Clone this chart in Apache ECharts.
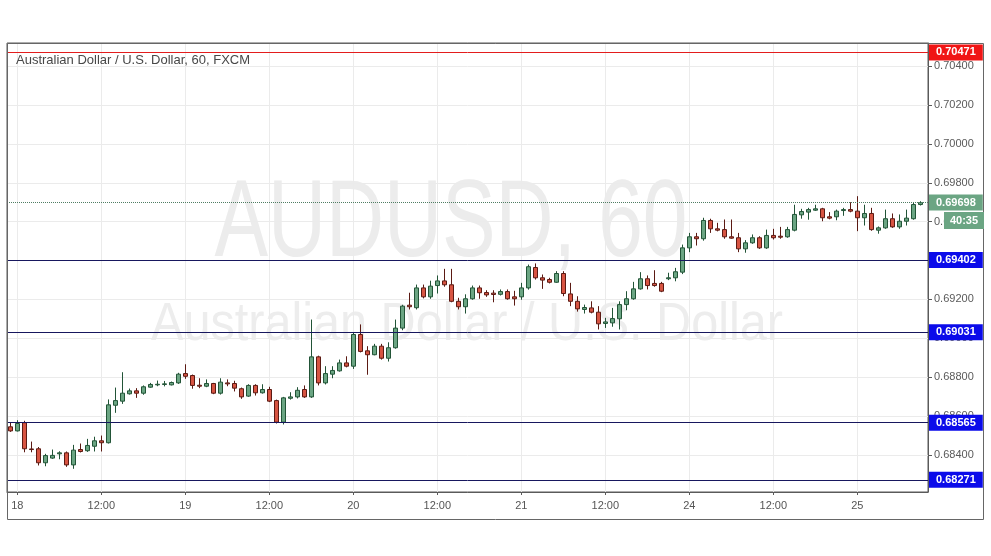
<!DOCTYPE html>
<html>
<head>
<meta charset="utf-8">
<script src="https://cdn.jsdelivr.net/npm/echarts@6/dist/echarts.min.js"></script>
<style>html,body{margin:0;padding:0;background:#ffffff}#c{width:991px;height:556px}</style>
</head>
<body>
<div id="c"></div>
<script>
// ---- data (hourly AUD/USD candles, 17th 23:00 .. 25th 09:00) ----
const opens = [
0.68544,0.68523,0.68565,0.68430,0.68431,0.68359,0.68383,0.68405,0.68410,0.68348,
0.68427,0.68421,0.68444,0.68472,0.68462,0.68655,0.68676,0.68714,0.68729,0.68717,
0.68748,0.68760,0.68762,0.68760,0.68770,0.68818,0.68808,0.68758,0.68753,0.68767,
0.68717,0.68770,0.68767,0.68740,0.68702,0.68757,0.68719,0.68736,0.68679,0.68568,
0.68691,0.68698,0.68736,0.68698,0.68904,0.68770,0.68815,0.68832,0.68873,0.68856,
0.69019,0.68935,0.68915,0.68959,0.68897,0.68951,0.69052,0.69170,0.69157,0.69259,
0.69213,0.69271,0.69295,0.69275,0.69190,0.69162,0.69203,0.69259,0.69235,0.69232,
0.69226,0.69240,0.69213,0.69213,0.69259,0.69364,0.69311,0.69302,0.69288,0.69333,
0.69228,0.69190,0.69148,0.69156,0.69134,0.69076,0.69079,0.69100,0.69173,0.69203,
0.69254,0.69306,0.69282,0.69282,0.69306,0.69311,0.69340,0.69465,0.69522,0.69512,
0.69606,0.69563,0.69559,0.69522,0.69517,0.69460,0.69491,0.69517,0.69465,0.69529,
0.69525,0.69522,0.69556,0.69635,0.69649,0.69659,0.69666,0.69625,0.69625,0.69657,
0.69662,0.69654,0.69620,0.69642,0.69556,0.69568,0.69615,0.69573,0.69602,0.69615,
0.69688];
const highs = [
0.68568,0.68578,0.68575,0.68468,0.68440,0.68405,0.68427,0.68418,0.68417,0.68451,
0.68458,0.68482,0.68493,0.68499,0.68685,0.68746,0.68825,0.68741,0.68743,0.68757,
0.68770,0.68782,0.68780,0.68777,0.68822,0.68866,0.68813,0.68794,0.68788,0.68770,
0.68794,0.68788,0.68781,0.68746,0.68763,0.68763,0.68763,0.68750,0.68684,0.68698,
0.68722,0.68748,0.68757,0.69096,0.68910,0.68856,0.68856,0.68890,0.68907,0.69028,
0.69071,0.68959,0.68971,0.68971,0.68979,0.69096,0.69172,0.69234,0.69276,0.69276,
0.69296,0.69323,0.69357,0.69357,0.69208,0.69226,0.69271,0.69271,0.69247,0.69247,
0.69251,0.69251,0.69244,0.69285,0.69379,0.69385,0.69328,0.69311,0.69345,0.69345,
0.69285,0.69216,0.69173,0.69190,0.69165,0.69105,0.69156,0.69190,0.69242,0.69290,
0.69340,0.69323,0.69350,0.69290,0.69337,0.69362,0.69482,0.69542,0.69542,0.69620,
0.69615,0.69594,0.69611,0.69611,0.69542,0.69505,0.69534,0.69525,0.69559,0.69563,
0.69573,0.69573,0.69687,0.69666,0.69671,0.69687,0.69671,0.69649,0.69662,0.69671,
0.69700,0.69731,0.69687,0.69671,0.69575,0.69662,0.69642,0.69637,0.69662,0.69697,
0.69705];
const lows = [
0.68518,0.68520,0.68413,0.68413,0.68345,0.68341,0.68379,0.68377,0.68338,0.68328,
0.68412,0.68415,0.68417,0.68417,0.68458,0.68616,0.68662,0.68710,0.68693,0.68709,
0.68745,0.68753,0.68752,0.68757,0.68765,0.68791,0.68740,0.68743,0.68748,0.68712,
0.68710,0.68753,0.68726,0.68688,0.68698,0.68705,0.68715,0.68671,0.68561,0.68556,
0.68684,0.68690,0.68693,0.68693,0.68757,0.68762,0.68794,0.68828,0.68850,0.68842,
0.68927,0.68812,0.68912,0.68890,0.68880,0.68946,0.69041,0.69148,0.69148,0.69205,
0.69203,0.69230,0.69265,0.69185,0.69148,0.69127,0.69198,0.69203,0.69213,0.69185,
0.69220,0.69198,0.69168,0.69198,0.69250,0.69302,0.69254,0.69282,0.69285,0.69216,
0.69165,0.69137,0.69127,0.69128,0.69045,0.69053,0.69059,0.69045,0.69144,0.69198,
0.69250,0.69251,0.69265,0.69237,0.69299,0.69293,0.69330,0.69443,0.69477,0.69502,
0.69542,0.69550,0.69512,0.69512,0.69443,0.69440,0.69486,0.69460,0.69460,0.69508,
0.69512,0.69517,0.69550,0.69615,0.69610,0.69655,0.69602,0.69612,0.69607,0.69630,
0.69648,0.69551,0.69580,0.69553,0.69538,0.69563,0.69568,0.69563,0.69580,0.69610,
0.69683];
const closes = [
0.68523,0.68561,0.68431,0.68427,0.68359,0.68396,0.68397,0.68410,0.68348,0.68424,
0.68417,0.68448,0.68472,0.68462,0.68657,0.68679,0.68717,0.68729,0.68717,0.68750,
0.68762,0.68763,0.68765,0.68772,0.68815,0.68804,0.68757,0.68753,0.68767,0.68717,
0.68774,0.68765,0.68743,0.68698,0.68757,0.68719,0.68736,0.68676,0.68568,0.68693,
0.68698,0.68732,0.68698,0.68904,0.68770,0.68818,0.68834,0.68873,0.68856,0.69019,
0.68932,0.68915,0.68959,0.68897,0.68951,0.69052,0.69165,0.69162,0.69259,0.69213,
0.69268,0.69295,0.69275,0.69190,0.69162,0.69203,0.69259,0.69234,0.69223,0.69225,
0.69240,0.69203,0.69203,0.69259,0.69368,0.69311,0.69299,0.69288,0.69333,0.69230,
0.69190,0.69151,0.69158,0.69134,0.69074,0.69084,0.69101,0.69173,0.69203,0.69254,
0.69306,0.69271,0.69271,0.69242,0.69311,0.69342,0.69465,0.69522,0.69512,0.69606,
0.69563,0.69556,0.69522,0.69515,0.69460,0.69491,0.69517,0.69465,0.69529,0.69517,
0.69520,0.69559,0.69637,0.69652,0.69662,0.69666,0.69620,0.69618,0.69654,0.69662,
0.69654,0.69620,0.69642,0.69559,0.69568,0.69615,0.69573,0.69602,0.69618,0.69688,
0.69698];
const tickIndex = [1, 13, 25, 37, 49, 61, 73, 85, 97, 109, 121];
const tickLabels = ['18', '12:00', '19', '12:00', '20', '12:00', '21', '12:00', '24', '12:00', '25'];
const priceTicks = [0.684, 0.686, 0.688, 0.690, 0.692, 0.694, 0.696, 0.698, 0.700, 0.702, 0.704];
const supportLevels = [0.69402, 0.69031, 0.68565, 0.68271];
const resistanceLevel = 0.70471;
const lastPrice = 0.69698;
const countdown = '40:35';
const titleText = 'Australian Dollar / U.S. Dollar, 60, FXCM';
const watermarkSymbol = 'AUDUSD, 60';
const watermarkName = 'Australian Dollar / U.S. Dollar';

// ---- chart ----
const candles = opens.map((o, i) => [i, o, closes[i], lows[i], highs[i]]);
const labelOf = {};
tickIndex.forEach((t, k) => { labelOf[t] = tickLabels[k]; });
const FONT = 'Liberation Sans, Arial, sans-serif';

const chart = echarts.init(document.getElementById('c'), null, {renderer: 'canvas'});
const option = {
  animation: false,
  backgroundColor: '#ffffff',
  textStyle: {fontFamily: FONT},
  grid: {left: 7, top: 43, width: 921, height: 449, show: true, borderColor: '#5a5a5a', borderWidth: 1, backgroundColor: 'transparent'},
  xAxis: {
    type: 'value', min: -0.471, max: 131.1,
    axisLine: {show: true, onZero: false, lineStyle: {color: '#5a5a5a'}},
    axisTick: {show: true, customValues: tickIndex, length: 3, lineStyle: {color: '#5a5a5a'}},
    axisLabel: {customValues: tickIndex, formatter: v => labelOf[Math.round(v)] || '', color: '#555555', fontSize: 11, margin: 8, fontFamily: FONT},
    splitLine: {show: true, lineStyle: {color: '#ebebeb', width: 1}}
  },
  yAxis: {
    type: 'value', position: 'right', min: 0.682085, max: 0.705194, scale: true,
    axisLine: {show: true, onZero: false, lineStyle: {color: '#5a5a5a'}},
    axisTick: {show: true, customValues: priceTicks, length: 4, lineStyle: {color: '#5a5a5a'}},
    axisLabel: {customValues: priceTicks, formatter: v => v.toFixed(5), color: '#5a5a5a', fontSize: 11, margin: 6, fontFamily: FONT},
    splitLine: {show: true, lineStyle: {color: '#ebebeb', width: 1}}
  },
  series: [{
    type: 'candlestick',
    data: candles,
    barWidth: 5,
    itemStyle: {color: '#6ba583', color0: '#d75442', borderColor: '#225437', borderColor0: '#5b1a13', borderWidth: 1},
    markLine: {
      symbol: 'none', silent: true, animation: false, precision: 5,
      label: {show: true, position: 'end', distance: 1, color: '#ffffff', fontWeight: 'bold', fontSize: 11, fontFamily: FONT,
              padding: [3, 7, 2, 7], formatter: p => Number(p.value).toFixed(5)},
      data: [
        {yAxis: resistanceLevel, lineStyle: {color: '#e31d1d', type: 'solid', width: 1}, label: {backgroundColor: '#f01515'}},
        ...supportLevels.map(v => ({yAxis: v, lineStyle: {color: '#17175e', type: 'solid', width: 1}, label: {backgroundColor: '#0b0bea'}})),
        {yAxis: lastPrice, lineStyle: {color: '#4f7d63', type: 'dotted', width: 1}, label: {backgroundColor: '#6ba583'}}
      ]
    }
  }]
};
chart.setOption(option);

const py = chart.convertToPixel({yAxisIndex: 0}, lastPrice);
chart.setOption({
  graphic: [
    {type: 'text', z: -10, x: 451, y: 226, scaleX: 0.73, silent: true,
     style: {text: watermarkSymbol, font: '110px ' + FONT, fill: '#ececec', textAlign: 'center', textVerticalAlign: 'middle'}},
    {type: 'text', z: -10, x: 467, y: 325, scaleX: 0.9, silent: true,
     style: {text: watermarkName, font: '54px ' + FONT, fill: '#ededed', textAlign: 'center', textVerticalAlign: 'middle'}},
    {type: 'text', z: 100, x: 16, y: 60, silent: true,
     style: {text: titleText, font: '13px ' + FONT, fill: '#484848', textVerticalAlign: 'middle'}},
    {type: 'rect', z: 100, silent: true, shape: {x: 7.5, y: 43.5, width: 976, height: 476},
     style: {fill: 'none', stroke: '#666666', lineWidth: 1}},
    {type: 'rect', z: 100, silent: true, shape: {x: 944, y: Math.round(py) + 9, width: 40, height: 17},
     style: {fill: '#6ba583'}},
    {type: 'text', z: 101, silent: true, x: 964, y: Math.round(py) + 18,
     style: {text: countdown, font: 'bold 11px ' + FONT, fill: '#ffffff', textAlign: 'center', textVerticalAlign: 'middle'}}
  ]
});
</script>
</body>
</html>
